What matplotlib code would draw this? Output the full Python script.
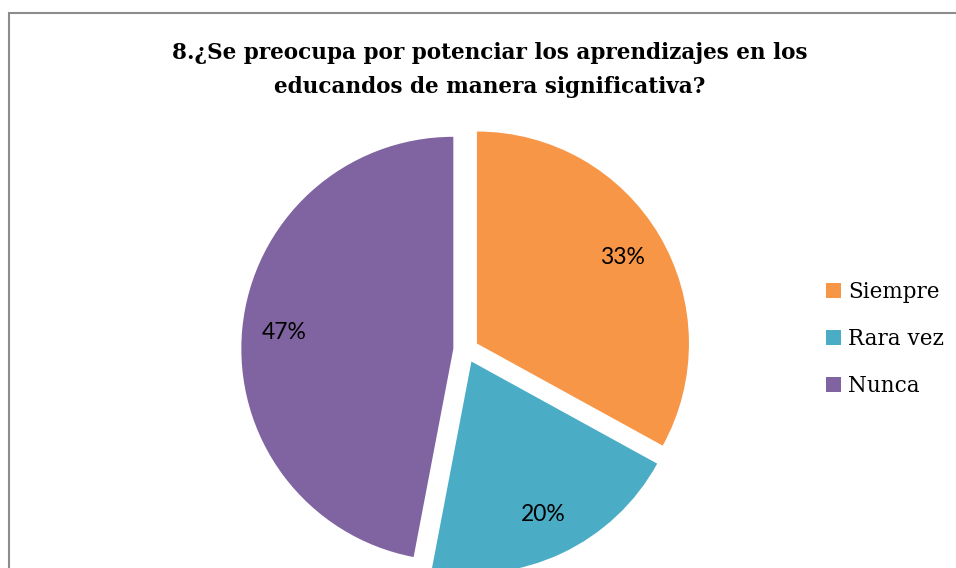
import matplotlib
matplotlib.use("Agg")
import matplotlib.pyplot as plt
from matplotlib.patches import Rectangle

title = "8.¿Se preocupa por potenciar los aprendizajes en los\neducandos de manera significativa?"
categories = ["Siempre", "Rara vez", "Nunca"]
values = [33, 20, 47]
colors = ["#F79646", "#4BACC6", "#8064A2"]

W, H = 956, 568
fig = plt.figure(figsize=(W / 100, H / 100), dpi=100)

# outer frame
fig.patches.append(Rectangle((9 / W, -0.1), 1.2, 1 - 13 / H + 0.1, transform=fig.transFigure,
                             fill=False, edgecolor="#8c8c8c", linewidth=1.5))

R = 212  # px per unit
cx, cy = 466, 350
L = 1.2
ax = fig.add_axes([(cx - L * R) / W, (H - cy - L * R) / H, 2 * L * R / W, 2 * L * R / H])

wedges, texts, autotexts = ax.pie(values, colors=colors, startangle=90, counterclock=False,
                                  explode=[0.06] * 3, autopct="%1.0f%%", pctdistance=0.8,
                                  textprops=dict(fontsize=16.5, family="Lato", color="black"),
                                  wedgeprops=dict(linewidth=0), frame=False)
ax.set_xlim(-L, L)
ax.set_ylim(-L, L)
ax.axis("off")
for w in wedges:
    w.set_clip_on(False)

fig.text(490 / W, 1 - 70 / H, title, ha="center", va="center", fontsize=15.5,
         family="DejaVu Serif", fontweight="bold", linespacing=1.7)

leg = fig.legend(wedges, categories, loc="center left", bbox_to_anchor=(807 / W, 1 - 339 / H),
                 frameon=False, prop=dict(family="DejaVu Serif", size=15.5),
                 handlelength=0.7, handleheight=0.7, handletextpad=0.3, labelspacing=1.15)

fig.savefig("out.png", dpi=100)
